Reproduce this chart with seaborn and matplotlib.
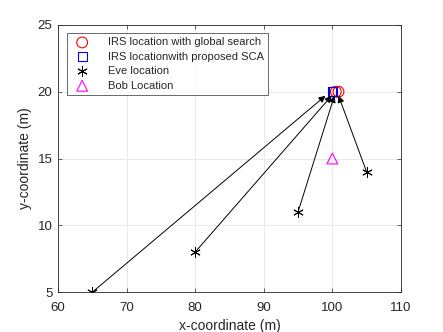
import matplotlib
matplotlib.use("Agg")
import matplotlib.pyplot as plt
import seaborn as sns
import pandas as pd

sns.set_theme(style="whitegrid")
plt.rcParams['font.family'] = ['Liberation Sans', 'DejaVu Sans']

eve_x = [65, 80, 95, 105]
eve_y = [5, 8, 11, 14]
irs_gs_x = [100.5, 100.9]
irs_gs_y = [20, 20]
irs_sca_x = [99.95, 100.1]
irs_sca_y = [20, 20]
bob_x = [100]
bob_y = [15]
arrow_tx = [99.0, 99.9, 100.3, 100.9]
arrow_ty = [19.7, 19.7, 19.7, 19.7]

fig = plt.figure(figsize=(4.43, 3.32), dpi=100)
ax = fig.add_axes([0.131, 0.12, 0.774, 0.805])

for ex, ey, tx, ty in zip(eve_x, eve_y, arrow_tx, arrow_ty):
    ax.annotate("", xy=(tx, ty), xytext=(ex, ey),
                arrowprops=dict(arrowstyle="-|>", color="black", lw=0.7,
                                shrinkA=0, shrinkB=0, mutation_scale=10))

df_gs = pd.DataFrame({"x": irs_gs_x, "y": irs_gs_y})
df_sca = pd.DataFrame({"x": irs_sca_x, "y": irs_sca_y})
df_eve = pd.DataFrame({"x": eve_x, "y": eve_y})
df_bob = pd.DataFrame({"x": bob_x, "y": bob_y})

sns.scatterplot(data=df_gs, x="x", y="y", ax=ax, marker="o", s=60,
                facecolors="none", edgecolor="red", linewidth=0.8,
                label="IRS location with global search")
sns.scatterplot(data=df_sca, x="x", y="y", ax=ax, marker="s", s=40,
                facecolors="none", edgecolor="blue", linewidth=0.8,
                label="IRS locationwith proposed SCA")
sns.scatterplot(data=df_eve, x="x", y="y", ax=ax, marker=(6, 2, 0), s=50,
                color="black", linewidth=0.7, label="Eve location")
sns.scatterplot(data=df_bob, x="x", y="y", ax=ax, marker="^", s=60,
                facecolors="none", edgecolor="magenta", linewidth=0.8,
                label="Bob Location")

ax.set_xlim(60, 110)
ax.set_ylim(5, 25)
ax.set_xticks([60, 70, 80, 90, 100, 110])
ax.set_yticks([5, 10, 15, 20, 25])
ax.set_xlabel("x-coordinate (m)", fontsize=10, color="#262626", labelpad=4)
ax.set_ylabel("y-coordinate (m)", fontsize=10, color="#262626", labelpad=4)
ax.tick_params(labelsize=9.5, colors="#262626", length=3, direction="in",
               top=True, right=True, bottom=True, left=True, width=0.5)
ax.tick_params(axis="x", pad=7)
ax.tick_params(axis="y", pad=4)
ax.grid(True, color="#e6e6e6", linewidth=0.6)
ax.set_facecolor("white")
for sp in ax.spines.values():
    sp.set_color("#262626")
    sp.set_linewidth(0.6)

leg = ax.legend(loc="upper left", fontsize=8, frameon=True, fancybox=False,
                borderpad=0.4, labelspacing=0.4, handletextpad=1.3,
                bbox_to_anchor=(0.025, 0.97), borderaxespad=0)
leg.get_frame().set_edgecolor("#262626")
leg.get_frame().set_linewidth(0.6)

fig.savefig("out.png", dpi=100)
